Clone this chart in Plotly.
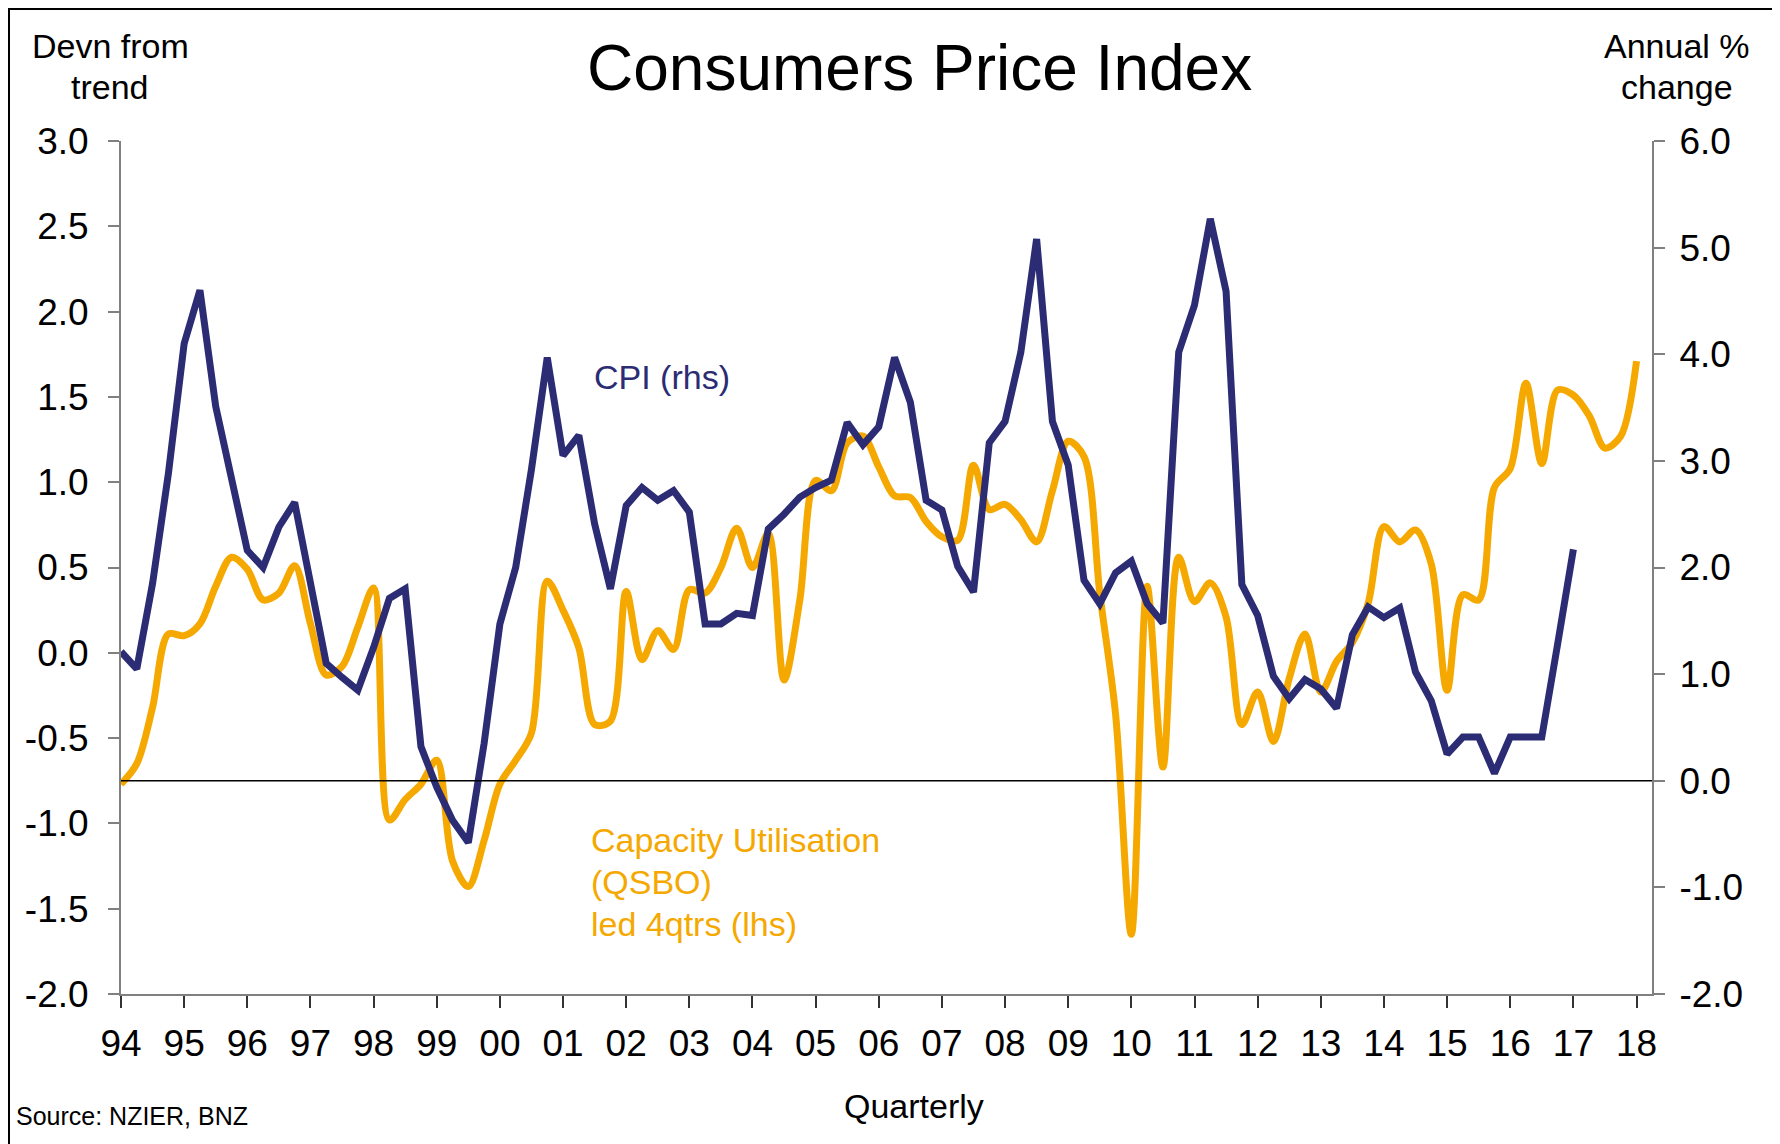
import plotly.graph_objects as go

# ---------------- data ----------------
start_year = 1994
# CPI annual % change (rhs), quarterly from Mar-1994
cpi = [1.21, 1.05, 1.85, 2.88, 4.10, 4.60, 3.51, 2.81, 2.16, 2.00, 2.38, 2.61,
       1.87, 1.10, 0.97, 0.85, 1.25, 1.71, 1.80, 0.32, -0.06, -0.37, -0.58, 0.35,
       1.47, 2.00, 2.92, 3.97, 3.05, 3.24, 2.41, 1.80, 2.58, 2.75, 2.63, 2.72,
       2.52, 1.47, 1.47, 1.57, 1.55, 2.36, 2.50, 2.66, 2.75, 2.82, 3.36, 3.15,
       3.32, 3.97, 3.55, 2.63, 2.54, 2.01, 1.77, 3.17, 3.37, 4.02, 5.08, 3.37,
       2.96, 1.88, 1.66, 1.95, 2.06, 1.66, 1.48, 4.02, 4.46, 5.27, 4.59, 1.84,
       1.55, 0.98, 0.77, 0.95, 0.86, 0.68, 1.37, 1.63, 1.53, 1.62, 1.02, 0.75,
       0.25, 0.41, 0.41, 0.07, 0.41, 0.41, 0.41, 1.28, 2.17]
# Capacity utilisation (QSBO) deviation from trend, led 4 quarters (lhs)
capu = [-0.77, -0.65, -0.32, 0.11, 0.10, 0.17, 0.39, 0.56, 0.49, 0.31, 0.35, 0.51,
        0.17, -0.13, -0.08, 0.15, 0.38, -0.98, -0.86, -0.77, -0.63, -1.22, -1.37, -1.10,
        -0.77, -0.63, -0.47, 0.42, 0.25, 0.03, -0.42, -0.40, 0.36, -0.04, 0.13, 0.02,
        0.37, 0.35, 0.50, 0.73, 0.50, 0.70, -0.16, 0.31, 1.01, 0.95, 1.23, 1.27,
        1.09, 0.92, 0.91, 0.77, 0.68, 0.66, 1.10, 0.84, 0.87, 0.78, 0.65, 0.95,
        1.24, 1.15, 0.35, -0.36, -1.65, 0.39, -0.67, 0.56, 0.30, 0.41, 0.21, -0.42,
        -0.23, -0.52, -0.15, 0.11, -0.23, -0.05, 0.06, 0.29, 0.74, 0.65, 0.72, 0.52,
        -0.22, 0.34, 0.31, 0.97, 1.08, 1.58, 1.11, 1.54, 1.51, 1.39, 1.20, 1.27, 1.71]

year_ticks = list(range(1994, 2019))
year_labels = ["94", "95", "96", "97", "98", "99", "00", "01", "02", "03", "04", "05",
               "06", "07", "08", "09", "10", "11", "12", "13", "14", "15", "16", "17", "18"]
lhs_ticks = [-2.0, -1.5, -1.0, -0.5, 0.0, 0.5, 1.0, 1.5, 2.0, 2.5, 3.0]
lhs_labels = ["-2.0", "-1.5", "-1.0", "-0.5", "0.0", "0.5", "1.0", "1.5", "2.0", "2.5", "3.0"]
rhs_ticks = [-2.0, -1.0, 0.0, 1.0, 2.0, 3.0, 4.0, 5.0, 6.0]
rhs_labels = ["-2.0", "-1.0", "0.0", "1.0", "2.0", "3.0", "4.0", "5.0", "6.0"]

x_cpi = [start_year + i / 4 for i in range(len(cpi))]
x_cap = [start_year + i / 4 for i in range(len(capu))]

# ---------------- style ----------------
OFF = 8                      # default page body margin
W, H = 1780 - OFF, 1144 - OFF
L, R, T, B = 121, 1652, 141, 994   # plot area in page pixels
NAVY = "#2B2C74"
ORANGE = "#F5A800"
AXIS = "#808080"
FONT = "Liberation Sans, Arial, sans-serif"
X_MAX = 2018.245


def px(x):
    return (x - L) / (R - L)


def py(y):
    return (B - y) / (B - T)


fig = go.Figure()
fig.add_trace(go.Scatter(x=x_cap, y=capu, mode="lines", yaxis="y",
                         line=dict(color=ORANGE, width=7, shape="spline", smoothing=0.9),
                         hoverinfo="skip", showlegend=False))
fig.add_trace(go.Scatter(x=x_cpi, y=cpi, mode="lines", yaxis="y2",
                         line=dict(color=NAVY, width=7),
                         hoverinfo="skip", showlegend=False))

fig.update_layout(
    width=W, height=H,
    margin=dict(l=L - OFF, r=W - (R - OFF), t=T - OFF, b=H - (B - OFF), pad=0),
    paper_bgcolor="white", plot_bgcolor="white",
    font=dict(family=FONT, color="black"),
    showlegend=False,
    xaxis=dict(range=[start_year, X_MAX], tickmode="array", tickvals=year_ticks,
               ticktext=year_labels, ticks="outside", ticklen=12, tickwidth=1.5,
               tickcolor="#333333", showline=True, linecolor=AXIS, linewidth=2,
               showgrid=False, zeroline=False, tickfont=dict(size=37),
               ticklabelstandoff=4),
    yaxis=dict(range=[-2, 3], tickmode="array", tickvals=lhs_ticks, ticktext=lhs_labels,
               ticks="outside", ticklen=11, tickwidth=1.5, tickcolor=AXIS,
               showline=True, linecolor=AXIS, linewidth=2, showgrid=False,
               zeroline=False, tickfont=dict(size=37), ticklabelstandoff=12),
    yaxis2=dict(range=[-2, 6], overlaying="y", side="right", tickmode="array",
                tickvals=rhs_ticks, ticktext=rhs_labels, ticks="outside", ticklen=11,
                tickwidth=1.5, tickcolor=AXIS, showline=True, linecolor=AXIS,
                linewidth=2, showgrid=False, zeroline=False,
                tickfont=dict(size=37), ticklabelstandoff=7),
)

# zero line of the rhs scale
fig.add_shape(type="line", xref="x", yref="y2", x0=start_year, x1=X_MAX, y0=0, y1=0,
              line=dict(color="black", width=1.5))
# outer frame (top and left edges)
fig.add_shape(type="line", xref="paper", yref="paper", x0=px(OFF), x1=px(1790),
              y0=py(OFF + 1), y1=py(OFF + 1), line=dict(color="black", width=2))
fig.add_shape(type="line", xref="paper", yref="paper", x0=px(OFF + 1), x1=px(OFF + 1),
              y0=py(OFF), y1=py(1150), line=dict(color="black", width=2))


def note(text, x, y, size, color="black", xanchor="center"):
    fig.add_annotation(text=text, xref="paper", yref="paper", x=px(x), y=py(y),
                       xanchor=xanchor, yanchor="middle", showarrow=False,
                       font=dict(size=size, color=color, family=FONT))


note("Consumers Price Index", 919, 68, 64)
note("Devn from", 110, 46, 34)
note("trend", 110, 87, 34)
note("Annual %", 1677, 46, 34)
note("change", 1677, 87, 34)
note("CPI (rhs)", 662, 377, 34, NAVY)
note("Capacity Utilisation", 589, 840, 34, ORANGE, "left")
note("(QSBO)", 589, 882, 34, ORANGE, "left")
note("led 4qtrs (lhs)", 589, 924, 34, ORANGE, "left")
note("Quarterly", 914, 1106, 34)
note("Source: NZIER, BNZ", 14, 1116, 25, "black", "left")

fig.write_html("out.html")
